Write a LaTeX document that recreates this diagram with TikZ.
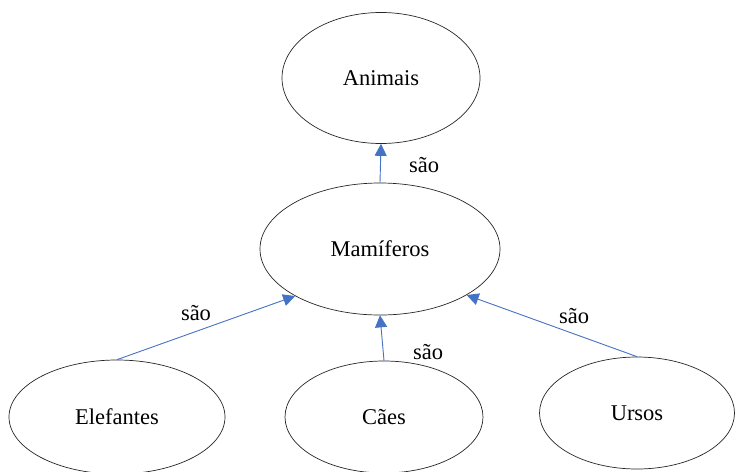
\documentclass[tikz,border=0pt]{standalone}
\usepackage{fontspec}
\setmainfont{Liberation Serif}
\usetikzlibrary{shapes.geometric,arrows.meta}
\definecolor{arrowblue}{RGB}{68,114,196}
\begin{document}
\begin{tikzpicture}[x=1pt,y=-1pt,
  concept/.style={draw=black!85,line width=0.7pt,ellipse,inner sep=0pt,font=\fontsize{22.5}{26}\selectfont},
  link/.style={draw=arrowblue,line width=0.9pt,-{Triangle[length=12pt,width=12pt]}},
  lbl/.style={font=\fontsize{22.5}{26}\selectfont,inner sep=0pt}]
\useasboundingbox (0,0) rectangle (735,471);
\node[concept,minimum width=198pt,minimum height=131pt] (animais) at (381,78) {Animais};
\node[concept,minimum width=240pt,minimum height=132pt] (mamiferos) at (380,249) {Mamíferos};
\node[concept,minimum width=216pt,minimum height=114pt] (elefantes) at (117,417) {Elefantes};
\node[concept,minimum width=198pt,minimum height=112pt] (caes) at (384,417) {Cães};
\node[concept,minimum width=195pt,minimum height=112pt] (ursos) at (637,413) {Ursos};
\draw[link] (mamiferos.north) -- (animais.south);
\draw[link] (elefantes.north) -- (mamiferos.209);
\draw[link] (caes.north) -- (mamiferos.south);
\draw[link] (ursos.north) -- (mamiferos.-28);
\node[lbl] (l1) at (424,165) {são};
\node[lbl] (l2) at (196,313) {são};
\node[lbl] (l3) at (428,352) {são};
\node[lbl] (l4) at (574,316) {são};
\end{tikzpicture}
\end{document}
